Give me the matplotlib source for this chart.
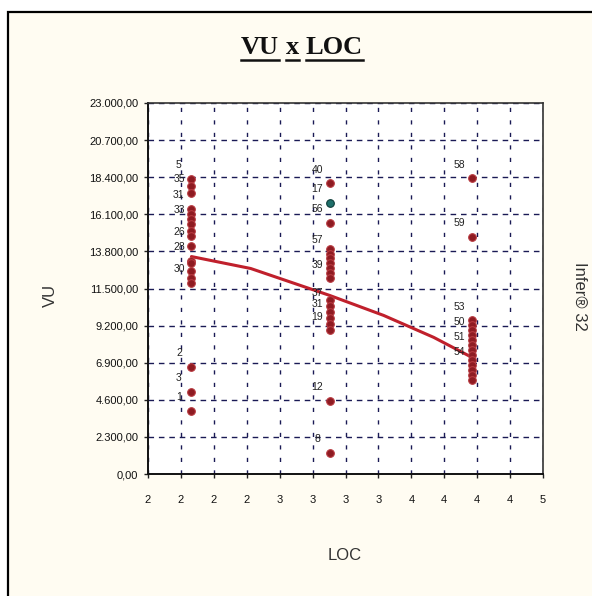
import matplotlib
matplotlib.use('Agg')
import matplotlib.pyplot as plt
import matplotlib.patches as patches
import numpy as np

# values
col1_loc = 2.33
col1_vu = [18300, 17870, 17440, 16450, 16140, 15830, 15520, 15090, 14780,
           14160, 13230, 13050, 12610, 12180, 11870, 6620, 5070, 3900]
col2_loc = 3.38
col2_vu = [18010, 15540, 13970, 13660, 13360, 13050, 12740, 12430, 12120,
           10760, 10390, 10020, 9650, 9280, 8900, 4550, 1300]
col3_loc = 4.46
col3_vu = [18320, 14720, 9520, 9210, 8900, 8590, 8280, 7970, 7660, 7350,
           7040, 6730, 6420, 6110, 5810]
teal_loc = [3.38]
teal_vu = [16780]

trend_loc = [2.33, 2.78, 3.38, 3.79, 4.17, 4.46]
trend_vu = [13480, 12740, 11070, 9830, 8470, 7230]

label_loc = [2.33, 2.33, 2.33, 2.33, 2.33, 2.33, 2.33, 2.33, 2.33, 2.33,
             3.38, 3.38, 3.38, 3.38, 3.38, 3.38, 3.38, 3.38, 3.38, 3.38,
             4.46, 4.46, 4.46, 4.46, 4.46, 4.46]
label_vu = [18300, 17440, 16450, 15520, 14160, 13230, 11870, 6620, 5070, 3900,
            18010, 16780, 15540, 13660, 12120, 10390, 9650, 8900, 4550, 1300,
            18320, 14720, 9520, 8590, 7660, 6730]
label_txt = ["5", "35", "31", "33", "26", "28", "30", "2", "3", "1",
             "40", "17", "56", "57", "39", "37", "31", "19", "12", "8",
             "58", "59", "53", "50", "51", "54"]

y_ticks = np.arange(0, 23001, 2300)
x_ticks = np.arange(2, 5.001, 0.25)


def br_fmt(v):
    s = f"{v:,.2f}"
    return s.replace(',', 'X').replace('.', ',').replace('X', '.')


W, H = 592, 596
fig = plt.figure(figsize=(W / 100, H / 100), dpi=100, facecolor='white')

# cream chart area with black frame running off the picture
frame = patches.Rectangle((8 / W, -0.1), 1.2, 1.1 - 12 / H, transform=fig.transFigure,
                          facecolor='#FFFCF2', edgecolor='black', lw=1.6, zorder=-10)
fig.patches.append(frame)

ax = fig.add_axes([148 / W, 1 - 474 / H, (543 - 148) / W, (474 - 103) / H])
ax.set_facecolor('white')

ax.plot(trend_loc, trend_vu, color='#C0202C', lw=2.2, zorder=3, solid_capstyle='round')

mk = dict(marker='o', ms=5.5, mfc='#8E1B22', mec='#B83A40', mew=0.8, ls='none', zorder=4)
ax.plot([col1_loc] * len(col1_vu), col1_vu, **mk)
ax.plot([col2_loc] * len(col2_vu), col2_vu, **mk)
ax.plot([col3_loc] * len(col3_vu), col3_vu, **mk)
ax.plot(teal_loc, teal_vu, marker='o', ms=5.5, mfc='#1F6F6A', mec='#0E3D3A', mew=0.8,
        ls='none', zorder=4)

for lx, ly, t in zip(label_loc, label_vu, label_txt):
    ax.annotate(t, (lx, ly), xytext=(-9, 10), textcoords='offset points',
                ha='center', va='center', fontsize=7.5, color='#222222',
                family='Liberation Sans', zorder=5)

ax.set_xlim(2, 5)
ax.set_ylim(0, 23000)
ax.set_xticks(x_ticks)
ax.set_xticklabels([str(int(v)) for v in x_ticks])
ax.set_yticks(y_ticks)
ax.set_yticklabels([br_fmt(v) for v in y_ticks])
ax.tick_params(axis='both', labelsize=8, length=3, width=1, color='#222222', pad=4)
for lab in ax.get_xticklabels() + ax.get_yticklabels():
    lab.set_family('Liberation Sans')
    lab.set_color('#111111')
ax.tick_params(axis='x', pad=12)

ax.grid(True, axis='y', color='#1A1A55', linestyle=(0, (4, 3.5)), lw=1)
ax.grid(True, axis='x', color='#1A1A55', linestyle=(0, (3, 6)), lw=1)
ax.set_axisbelow(True)
for side in ['left', 'bottom']:
    ax.spines[side].set_color('#111111')
    ax.spines[side].set_linewidth(1.4)
for side in ['top', 'right']:
    ax.spines[side].set_color('#333333')
    ax.spines[side].set_linewidth(1.2)

fig.text(50 / W, 1 - 295 / H, 'VU', rotation=90, ha='center', va='center',
         fontsize=12, color='#333333', family='Liberation Sans')
fig.text(345 / W, 1 - 556 / H, 'LOC', ha='center', va='center',
         fontsize=12, color='#333333', family='Liberation Sans')
fig.text(580 / W, 1 - 262 / H, 'Infer® 32', rotation=270, ha='center', va='top',
         fontsize=12, color='#333333', family='Liberation Sans')

# title with each word underlined
words = ['VU', 'x', 'LOC']
fig.canvas.draw()
renderer = fig.canvas.get_renderer()
tkw = dict(fontsize=19, weight='bold', family='Liberation Serif', color='#111111')
probe = [fig.text(0, 0, w_, **tkw) for w_ in words]
space = fig.text(0, 0, 'x x', **tkw)
widths = [p.get_window_extent(renderer).width for p in probe]
gap = space.get_window_extent(renderer).width - 2 * widths[1]
for p in probe + [space]:
    p.remove()
total = sum(widths) + gap * (len(words) - 1)
x0 = 302 - total / 2
ty = 47
for w_, wd in zip(words, widths):
    fig.text(x0 / W, 1 - ty / H, w_, ha='left', va='center', **tkw)
    fig.add_artist(plt.Line2D([x0 / W, (x0 + wd) / W], [1 - (ty + 13) / H] * 2,
                              color='#111111', lw=1.8, transform=fig.transFigure))
    x0 += wd + gap

fig.savefig('out.png', dpi=100, facecolor=fig.get_facecolor())
